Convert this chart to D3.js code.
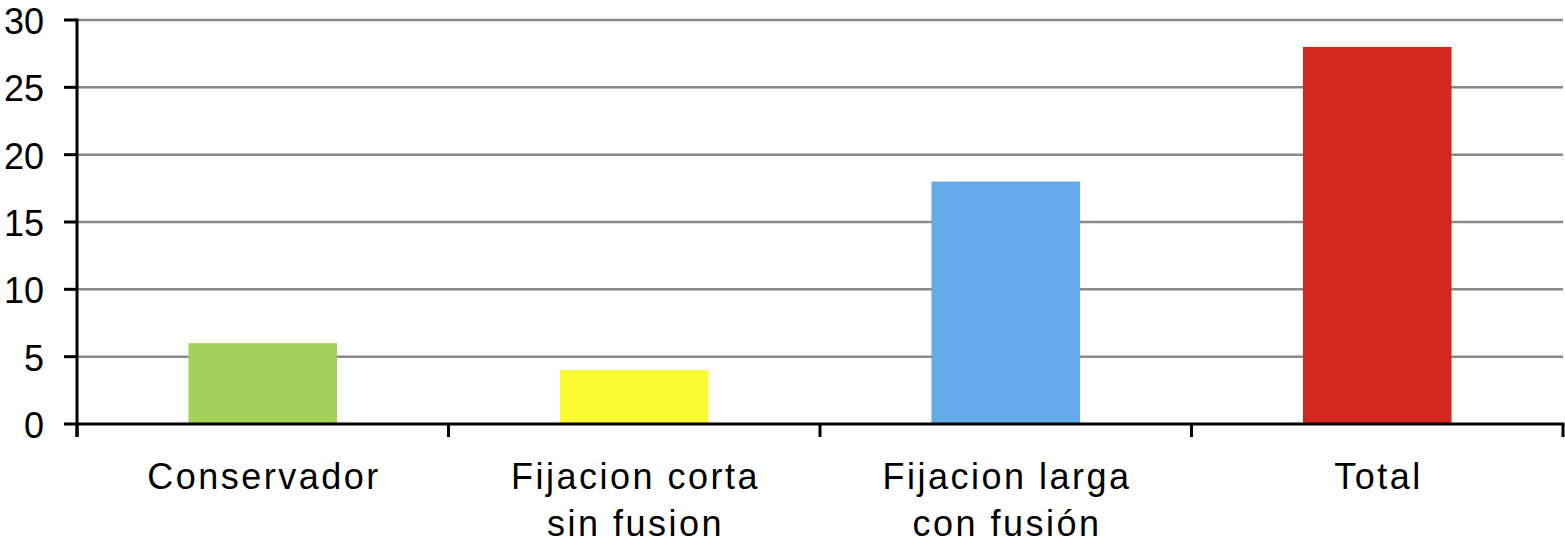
<!DOCTYPE html>
<html>
<head>
<meta charset="utf-8">
<script src="https://cdn.jsdelivr.net/npm/d3@7/dist/d3.min.js"></script>
<style>
  html, body { margin: 0; padding: 0; background: #fff; }
  svg { display: block; }
  text { font-family: "Liberation Sans", Arial, Helvetica, sans-serif; fill: #000; }
</style>
</head>
<body>
<svg id="chart" width="1565" height="551"></svg>
<script>
const categories = ["Conservador", "Fijacion corta\nsin fusion", "Fijacion larga\ncon fusión", "Total"];
const values = [6, 4, 18, 28];
const colors = ["#a3cf5a", "#fafc33", "#62abe8", "#d2291e"];
const yTicks = [0, 5, 10, 15, 20, 25, 30];

const svg = d3.select("#chart");
const mLeft = 77, mRight = 1563, mTop = 20, mBottom = 424;

const x = d3.scaleBand().domain(categories).range([mLeft, mRight]).paddingInner(0.6).paddingOuter(0.3);
const y = d3.scaleLinear().domain([0, 30]).range([mBottom, mTop]);

// gridlines
svg.append("g").selectAll("line").data(yTicks.filter(d => d > 0)).join("line")
  .attr("x1", mLeft).attr("x2", mRight)
  .attr("y1", d => y(d)).attr("y2", d => y(d))
  .attr("stroke", "#8a8a8a").attr("stroke-width", 2.5);

// bars
svg.append("g").selectAll("rect").data(categories).join("rect")
  .attr("x", d => x(d)).attr("width", x.bandwidth())
  .attr("y", (d, i) => y(values[i])).attr("height", (d, i) => y(0) - y(values[i]))
  .attr("fill", (d, i) => colors[i]);

// y axis
const yAxis = svg.append("g");
yAxis.append("line").attr("x1", mLeft).attr("x2", mLeft).attr("y1", mTop - 1.5).attr("y2", mBottom + 13)
  .attr("stroke", "#000").attr("stroke-width", 3);
yAxis.selectAll("line.tick").data(yTicks).join("line").attr("class", "tick")
  .attr("x1", 64).attr("x2", mLeft).attr("y1", d => y(d)).attr("y2", d => y(d))
  .attr("stroke", "#000").attr("stroke-width", 3);
yAxis.selectAll("text").data(yTicks).join("text")
  .attr("x", 44).attr("y", d => y(d) + 14)
  .attr("text-anchor", "end").attr("font-size", 36)
  .text(d => d);

// x axis
const xAxis = svg.append("g");
xAxis.append("line").attr("x1", mLeft).attr("x2", mRight + 1.5).attr("y1", mBottom).attr("y2", mBottom)
  .attr("stroke", "#000").attr("stroke-width", 3);
const step = x.step();
const bounds = categories.map(d => x(d) + x.bandwidth() / 2 - step / 2);
bounds.push(x(categories[categories.length - 1]) + x.bandwidth() / 2 + step / 2);
xAxis.selectAll("line.tick").data(bounds).join("line").attr("class", "tick")
  .attr("x1", d => d).attr("x2", d => d).attr("y1", mBottom).attr("y2", mBottom + 13)
  .attr("stroke", "#000").attr("stroke-width", 3);

const labels = xAxis.selectAll("text").data(categories).join("text")
  .attr("text-anchor", "middle").attr("font-size", 36)
  .style("letter-spacing", "2.5px")
  .attr("transform", d => `translate(${x(d) + x.bandwidth() / 2},0)`);
labels.selectAll("tspan").data(d => d.split("\n")).join("tspan")
  .attr("x", 1.25).attr("y", (d, i) => 489 + i * 47)
  .text(d => d);
</script>
</body>
</html>
